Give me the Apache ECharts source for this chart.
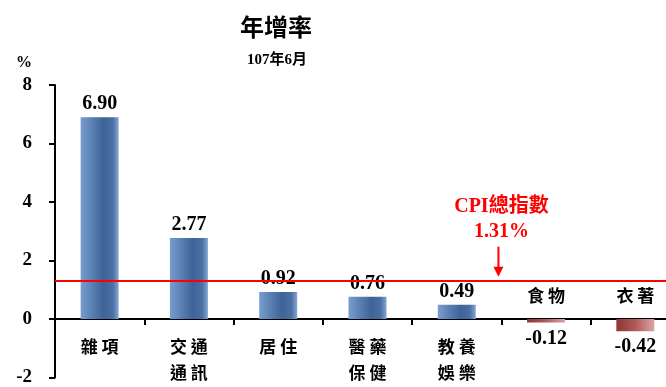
<!DOCTYPE html>
<html>
<head>
<meta charset="utf-8">
<script src="https://cdn.jsdelivr.net/npm/echarts@6/dist/echarts.min.js"></script>
<style>html,body{margin:0;padding:0;background:#fff;}#c{width:666px;height:387px;}</style>
</head>
<body>
<div id="c"></div>
<script>
var titleText = '年增率';
var subtitleText = '107年6月';
var unitLabel = '%';
var categories = ['雜項', '交通\n通訊', '居住', '醫藥\n保健', '教養\n娛樂', '食物', '衣著'];
var values = [6.90, 2.77, 0.92, 0.76, 0.49, -0.12, -0.42];
var cpiLabel = 'CPI總指數';
var cpiValue = 1.31;
var yMin = -2, yMax = 8, yStep = 2;

var serif = '"Liberation Serif", "Noto Sans CJK TC", serif';
var cjk = '"Noto Sans CJK TC", sans-serif';

function spaced(s) {
  return s.split('\n').map(function (line) { return line.split('').join(' '); }).join('\n');
}

var blueGrad = new echarts.graphic.LinearGradient(0, 0, 1, 0, [
  {offset: 0, color: '#789dce'},
  {offset: 0.6, color: '#3d6398'},
  {offset: 0.85, color: '#4b70a4'},
  {offset: 1, color: '#86a7d1'}
]);
var redGrad = new echarts.graphic.LinearGradient(0, 0, 1, 0, [
  {offset: 0, color: '#8e3434'},
  {offset: 0.5, color: '#b05a5a'},
  {offset: 1, color: '#dca4a4'}
]);

var gridTop = 85, gridHeight = 292.5;
var gridBottom = gridTop + gridHeight;

var chart = echarts.init(document.getElementById('c'), null, {renderer: 'canvas'});
var option = {
  animation: false,
  backgroundColor: '#fff',
  title: [
    {text: titleText, left: 271, top: 10, textAlign: 'center',
     textStyle: {fontFamily: cjk, fontWeight: 'bold', fontSize: 24, color: '#000'}},
    {text: subtitleText, left: 272, top: 48, textAlign: 'center',
     textStyle: {fontFamily: serif, fontWeight: 'bold', fontSize: 15, color: '#000'}}
  ],
  grid: {left: 55, top: gridTop, width: 625, height: gridHeight, containLabel: false, outerBoundsMode: 'none'},
  xAxis: [
    {
      type: 'category', data: categories, position: 'bottom',
      axisLine: {onZero: true, lineStyle: {color: '#000', width: 2}},
      axisTick: {show: true, length: 6, interval: 0, lineStyle: {color: '#000', width: 2}},
      axisLabel: {show: false}
    },
    {
      type: 'category', data: categories, position: 'bottom',
      axisLine: {show: false, onZero: true},
      axisTick: {show: false},
      axisLabel: {show: false}
    }
  ],
  yAxis: {
    type: 'value', min: yMin, max: yMax, interval: yStep,
    name: unitLabel, nameLocation: 'end', nameGap: 14,
    nameTextStyle: {fontFamily: serif, fontWeight: 'bold', fontSize: 16, color: '#000', align: 'right', padding: [0, 23, 0, 0]},
    axisLine: {show: true, lineStyle: {color: '#000', width: 2}},
    axisTick: {show: true, length: 6, lineStyle: {color: '#000', width: 2}},
    axisLabel: {margin: 23, color: '#000', fontFamily: serif, fontWeight: 'bold', fontSize: 19},
    splitLine: {show: false}
  },
  series: [{
    type: 'bar', xAxisIndex: 0, barWidth: 38,
    data: values.map(function (v) {
      return {
        value: v,
        itemStyle: {color: v >= 0 ? blueGrad : redGrad},
        label: {position: v >= 0 ? 'top' : 'bottom', distance: v >= 0 ? 3 : 6}
      };
    }),
    label: {
      show: true, color: '#000', fontFamily: serif, fontWeight: 'bold', fontSize: 20,
      formatter: function (p) { return p.value.toFixed(2); }
    },
    markLine: {
      silent: true, symbol: 'none', animation: false,
      lineStyle: {color: '#ff0000', width: 2, type: 'solid'},
      label: {show: false},
      data: [{yAxis: cpiValue}]
    },
    z: 2
  }]
};
chart.setOption(option);

var zeroY = chart.convertToPixel({yAxisIndex: 0}, 0);
var shift = zeroY - gridBottom;

chart.setOption({
  xAxis: [
    {axisLabel: {
      show: true, interval: 0, margin: shift + 15, color: '#000', fontFamily: cjk, fontWeight: 'bold',
      fontSize: 17, lineHeight: 26, hideOverlap: false,
      formatter: function (v, i) { return values[i] >= 0 ? spaced(v) : ''; }
    }},
    {axisLabel: {
      show: true, interval: 0, margin: shift - 13, verticalAlign: 'bottom', color: '#000', fontFamily: cjk, fontWeight: 'bold',
      fontSize: 17, lineHeight: 20, hideOverlap: false,
      formatter: function (v, i) { return values[i] < 0 ? spaced(v) : ''; }
    }}
  ]
});

var px4 = chart.convertToPixel({xAxisIndex: 0}, categories[4]);
var px5 = chart.convertToPixel({xAxisIndex: 0}, categories[5]);
var ax = (px4 + px5) / 2;
var ly = chart.convertToPixel({yAxisIndex: 0}, cpiValue);

chart.setOption({
  graphic: [
    {type: 'text', x: ax, y: ly - 74, style: {text: cpiLabel, fill: '#ff0000', font: 'bold 20px ' + serif, textAlign: 'center', textVerticalAlign: 'middle'}, silent: true},
    {type: 'text', x: ax, y: ly - 49, style: {text: cpiValue.toFixed(2) + '%', fill: '#ff0000', font: 'bold 20px ' + serif, textAlign: 'center', textVerticalAlign: 'middle'}, silent: true},
    {type: 'line', shape: {x1: ax - 3, y1: ly - 34, x2: ax - 3, y2: ly - 10}, style: {stroke: '#ff0000', lineWidth: 2}, silent: true},
    {type: 'polygon', shape: {points: [[ax - 8, ly - 14], [ax + 2, ly - 14], [ax - 3, ly - 4]]}, style: {fill: '#ff0000'}, silent: true}
  ]
});
</script>
</body>
</html>
